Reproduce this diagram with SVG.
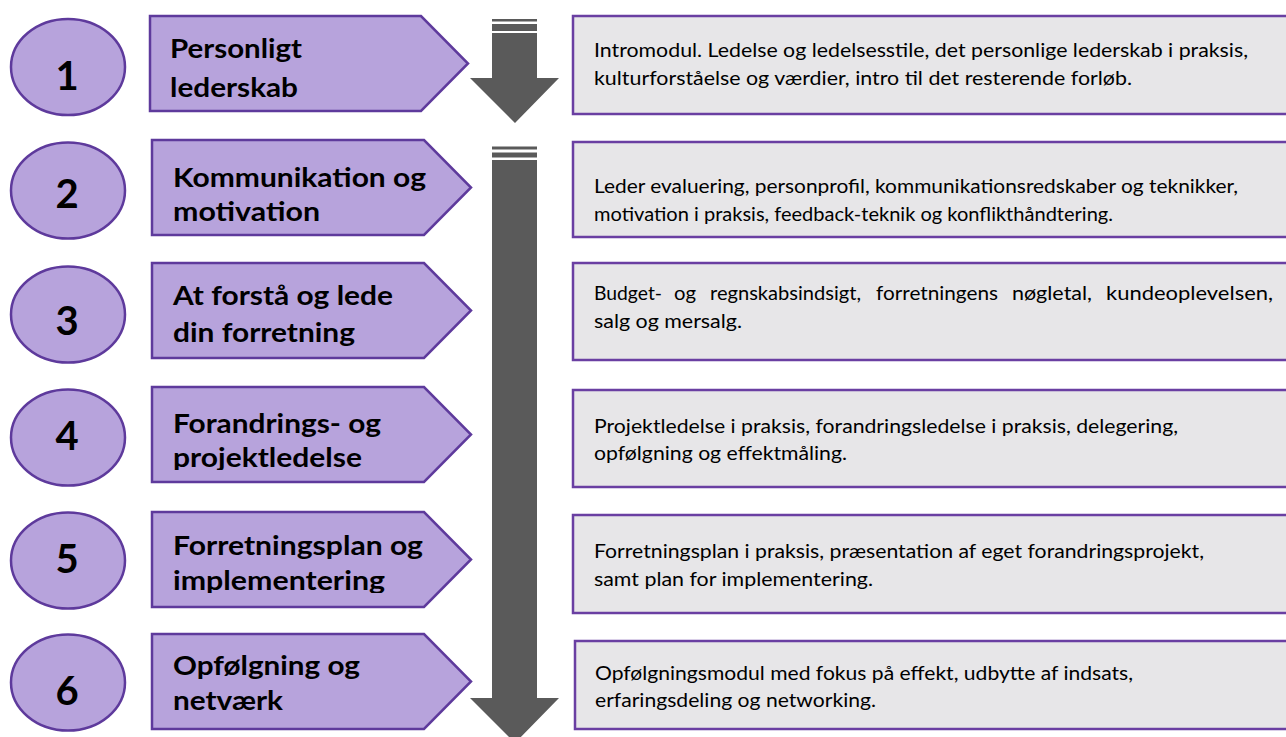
<svg xmlns="http://www.w3.org/2000/svg" width="1286" height="737" viewBox="0 0 1286 737">
<style>
.num{fill:#b7a3dc;stroke:#5e3a9c;stroke-width:2.5}
.pent{fill:#b7a3dc;stroke:#5e3a9c;stroke-width:2.5}
.box{fill:#e7e6e8;stroke:#6a3fa2;stroke-width:2.5}
.arr{fill:#5a5a5a}
.n{font-family:Lato,"Liberation Sans",sans-serif;font-weight:bold;font-size:40px;fill:#000;text-anchor:middle}
.t{font-family:Lato,"Liberation Sans",sans-serif;font-weight:bold;font-size:26px;fill:#000}
.d{font-family:Lato,"Liberation Sans",sans-serif;font-size:19.5px;fill:#000}
</style>
<defs>
<clipPath id="c3"><rect x="150" y="260" width="330" height="87"/></clipPath>
<clipPath id="c4"><rect x="150" y="384" width="330" height="86"/></clipPath>
<clipPath id="c5"><rect x="150" y="509" width="330" height="84"/></clipPath>
</defs>
<g id="connectors">
<rect class="arr" x="492" y="19" width="45" height="2.5"/>
<rect class="arr" x="492" y="24" width="45" height="7"/>
<polygon class="arr" points="492,33 537,33 537,78 559,78 515,123 470,78 492,78"/>
<rect class="arr" x="492" y="146.5" width="45" height="3"/>
<rect class="arr" x="492" y="152.5" width="45" height="5"/>
<polygon class="arr" points="492,160 537,160 537,698 559,698 515,743 470,698 492,698"/>
</g>
<g id="node1">
<ellipse class="num" cx="68" cy="67" rx="57" ry="48"/>
<text class="n" x="67" y="90">1</text>
<polygon class="pent" points="150,16 421,16 468,63.5 421,111 150,111"/>
<text class="t" x="170" y="58" textLength="132" lengthAdjust="spacingAndGlyphs">Personligt</text>
<text class="t" x="170" y="97" textLength="128" lengthAdjust="spacingAndGlyphs">lederskab</text>
<rect class="box" x="573" y="16" width="720" height="98"/>
<text class="d" x="594" y="57" textLength="654" lengthAdjust="spacingAndGlyphs">Intromodul. Ledelse og ledelsesstile, det personlige lederskab i praksis,</text>
<text class="d" x="594" y="85" textLength="538" lengthAdjust="spacingAndGlyphs">kulturforståelse og værdier, intro til det resterende forløb.</text>
</g>
<g id="node2">
<ellipse class="num" cx="68" cy="190.5" rx="57" ry="48"/>
<text class="n" x="67" y="208">2</text>
<polygon class="pent" points="152,140 424,140 471,187.5 424,235 152,235"/>
<text class="t" x="173" y="187" textLength="253" lengthAdjust="spacingAndGlyphs">Kommunikation og</text>
<text class="t" x="173" y="221" textLength="147" lengthAdjust="spacingAndGlyphs">motivation</text>
<rect class="box" x="573" y="142" width="720" height="95"/>
<text class="d" x="594" y="193" textLength="644" lengthAdjust="spacingAndGlyphs">Leder evaluering, personprofil, kommunikationsredskaber og teknikker,</text>
<text class="d" x="594" y="221" textLength="519" lengthAdjust="spacingAndGlyphs">motivation i praksis, feedback-teknik og konflikthåndtering.</text>
</g>
<g id="node3">
<ellipse class="num" cx="68" cy="314.5" rx="57" ry="48"/>
<text class="n" x="67" y="335">3</text>
<polygon class="pent" points="152,263 424,263 471,310.5 424,358 152,358"/>
<g clip-path="url(#c3)">
<text class="t" x="173" y="305" textLength="220" lengthAdjust="spacingAndGlyphs">At forstå og lede</text>
<text class="t" x="173" y="342" textLength="182" lengthAdjust="spacingAndGlyphs">din forretning</text>
</g>
<rect class="box" x="573" y="263" width="720" height="97"/>
<text class="d" y="300"><tspan x="594" textLength="68" lengthAdjust="spacingAndGlyphs">Budget-</tspan><tspan x="674" textLength="22" lengthAdjust="spacingAndGlyphs">og</tspan><tspan x="710" textLength="151" lengthAdjust="spacingAndGlyphs">regnskabsindsigt,</tspan><tspan x="876" textLength="122" lengthAdjust="spacingAndGlyphs">forretningens</tspan><tspan x="1012" textLength="80" lengthAdjust="spacingAndGlyphs">nøgletal,</tspan><tspan x="1106" textLength="167" lengthAdjust="spacingAndGlyphs">kundeoplevelsen,</tspan></text>
<text class="d" x="594" y="328" textLength="148" lengthAdjust="spacingAndGlyphs">salg og mersalg.</text>
</g>
<g id="node4">
<ellipse class="num" cx="68" cy="437.5" rx="57" ry="48"/>
<text class="n" x="67" y="450">4</text>
<polygon class="pent" points="152,387 424,387 471,434.5 424,482 152,482"/>
<g clip-path="url(#c4)">
<text class="t" x="173" y="433" textLength="208" lengthAdjust="spacingAndGlyphs">Forandrings- og</text>
<text class="t" x="173" y="467" textLength="189" lengthAdjust="spacingAndGlyphs">projektledelse</text>
</g>
<rect class="box" x="573" y="390" width="720" height="97"/>
<text class="d" x="594" y="433" textLength="584" lengthAdjust="spacingAndGlyphs">Projektledelse i praksis, forandringsledelse i praksis, delegering,</text>
<text class="d" x="594" y="460" textLength="253" lengthAdjust="spacingAndGlyphs">opfølgning og effektmåling.</text>
</g>
<g id="node5">
<ellipse class="num" cx="68" cy="560.5" rx="57" ry="48"/>
<text class="n" x="67" y="573">5</text>
<polygon class="pent" points="152,512 424,512 471,559.5 424,607 152,607"/>
<g clip-path="url(#c5)">
<text class="t" x="173" y="555" textLength="250" lengthAdjust="spacingAndGlyphs">Forretningsplan og</text>
<text class="t" x="173" y="590" textLength="212" lengthAdjust="spacingAndGlyphs">implementering</text>
</g>
<rect class="box" x="573" y="515" width="720" height="98"/>
<text class="d" x="594" y="558" textLength="610" lengthAdjust="spacingAndGlyphs">Forretningsplan i praksis, præsentation af eget forandringsprojekt,</text>
<text class="d" x="594" y="586" textLength="279" lengthAdjust="spacingAndGlyphs">samt plan for implementering.</text>
</g>
<g id="node6">
<ellipse class="num" cx="68" cy="682.5" rx="57" ry="48"/>
<text class="n" x="67" y="705">6</text>
<polygon class="pent" points="152,634 424,634 471,681.5 424,729 152,729"/>
<text class="t" x="173" y="675" textLength="187" lengthAdjust="spacingAndGlyphs">Opfølgning og</text>
<text class="t" x="173" y="710" textLength="110" lengthAdjust="spacingAndGlyphs">netværk</text>
<rect class="box" x="575" y="641" width="720" height="88"/>
<text class="d" x="595" y="680" textLength="538" lengthAdjust="spacingAndGlyphs">Opfølgningsmodul med fokus på effekt, udbytte af indsats,</text>
<text class="d" x="595" y="707" textLength="281" lengthAdjust="spacingAndGlyphs">erfaringsdeling og networking.</text>
</g>
</svg>
